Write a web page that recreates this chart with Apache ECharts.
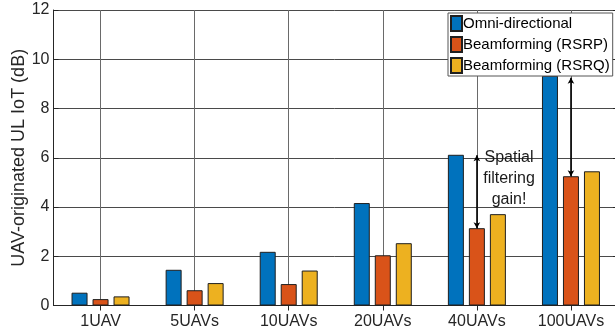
<!DOCTYPE html>
<html>
<head>
<meta charset="utf-8">
<script src="https://cdn.jsdelivr.net/npm/echarts@6/dist/echarts.min.js"></script>
<style>html,body{margin:0;padding:0;background:#fff;}#c{width:615px;height:335px;}</style>
</head>
<body>
<div id="c"></div>
<script>
const categories = ['1UAV', '5UAVs', '10UAVs', '20UAVs', '40UAVs', '100UAVs'];
const omni = [0.52, 1.45, 2.18, 4.16, 6.12, 9.33];
const bfRSRP = [0.26, 0.62, 0.87, 2.04, 3.14, 5.25];
const bfRSRQ = [0.37, 0.91, 1.42, 2.53, 3.71, 5.45];
const seriesNames = ['Omni-directional', 'Beamforming (RSRP)', 'Beamforming (RSRQ)'];
const yTicks = [0, 2, 4, 6, 8, 10, 12];
// gain arrows: [category, from value, to value]
const gainArrows = [['40UAVs', 6.1, 3.14], ['100UAVs', 9.25, 5.25]];
const annotationText = 'Spatial\nfiltering\ngain!';

const FONT = 'Liberation Sans, Arial, Helvetica, sans-serif';
const colors = ['#0072BD', '#D95319', '#EDB120'];
const chart = echarts.init(document.getElementById('c'), null, {renderer: 'canvas'});

function barSeries(name, data, color, withArrows) {
  const s = {
    name: name, type: 'bar', data: data,
    barWidth: 16, barGap: '31.25%',
    itemStyle: {color: color, borderColor: '#1f1f1f', borderWidth: 1},
    emphasis: {disabled: true},
    z: 3
  };
  if (withArrows) {
    s.markLine = {
      silent: true,
      symbol: ['arrow', 'arrow'],
      symbolSize: [5, 6],
      label: {show: false},
      lineStyle: {color: '#000', width: 1.6, type: 'solid'},
      data: gainArrows.map(a => [{coord: [a[0], a[1]]}, {coord: [a[0], a[2]]}]),
      z: 6
    };
  }
  return s;
}

chart.setOption({
  animation: false,
  backgroundColor: '#fff',
  grid: {left: 53.5, top: 10, right: -3, bottom: 29.5, containLabel: false, outerBoundsMode: 'none'},
  legend: {
    show: true,
    orient: 'vertical',
    left: 448, top: 13,
    padding: [2, 3, 2, 2],
    itemWidth: 11, itemHeight: 15, itemGap: 4,
    icon: 'rect',
    backgroundColor: '#fff',
    borderColor: '#555',
    borderWidth: 1,
    textStyle: {fontFamily: FONT, fontSize: 15, color: '#000', padding: [0, 0, 0, -4]},
    data: seriesNames
  },
  xAxis: [{
    type: 'category', data: categories, position: 'bottom',
    axisLine: {show: true, lineStyle: {color: '#262626', width: 1}},
    axisTick: {show: true, inside: true, length: 5, alignWithLabel: true, lineStyle: {color: '#262626'}},
    axisLabel: {fontFamily: FONT, fontSize: 16, color: '#262626', margin: 8},
    splitLine: {show: true, alignWithLabel: true, lineStyle: {color: '#6a6a6a', width: 1}}
  }, {
    type: 'category', data: categories, position: 'top',
    axisLine: {show: true, lineStyle: {color: '#262626', width: 1}},
    axisTick: {show: true, inside: true, length: 5, alignWithLabel: true, lineStyle: {color: '#262626'}},
    axisLabel: {show: false},
    splitLine: {show: false}
  }],
  yAxis: [{
    type: 'value', min: yTicks[0], max: yTicks[yTicks.length - 1], interval: 2,
    axisLine: {show: true, lineStyle: {color: '#262626', width: 1}},
    axisTick: {show: true, inside: true, length: 5, lineStyle: {color: '#262626'}},
    axisLabel: {fontFamily: FONT, fontSize: 16, color: '#262626', margin: 4},
    splitLine: {show: true, lineStyle: {color: '#4a4a4a', width: 1}},
    name: 'UAV-originated UL IoT (dB)',
    nameLocation: 'middle', nameGap: 25, nameMoveOverlap: false,
    nameTextStyle: {fontFamily: FONT, fontSize: 18, color: '#262626'}
  }, {
    type: 'value', position: 'right', min: yTicks[0], max: yTicks[yTicks.length - 1], interval: 2,
    axisLine: {show: true, lineStyle: {color: '#262626', width: 1}},
    axisTick: {show: true, inside: true, length: 5, lineStyle: {color: '#262626'}},
    axisLabel: {show: false},
    splitLine: {show: false}
  }],
  series: [
    barSeries(seriesNames[0], omni, colors[0], false),
    barSeries(seriesNames[1], bfRSRP, colors[1], true),
    barSeries(seriesNames[2], bfRSRQ, colors[2], false)
  ],
  graphic: [{
    type: 'text', x: 509, y: 179, z: 10,
    style: {
      text: annotationText, fontFamily: FONT, fontSize: 16, fill: '#1a1a1a',
      align: 'center', verticalAlign: 'middle', lineHeight: 21
    }
  }]
});
</script>
</body>
</html>
